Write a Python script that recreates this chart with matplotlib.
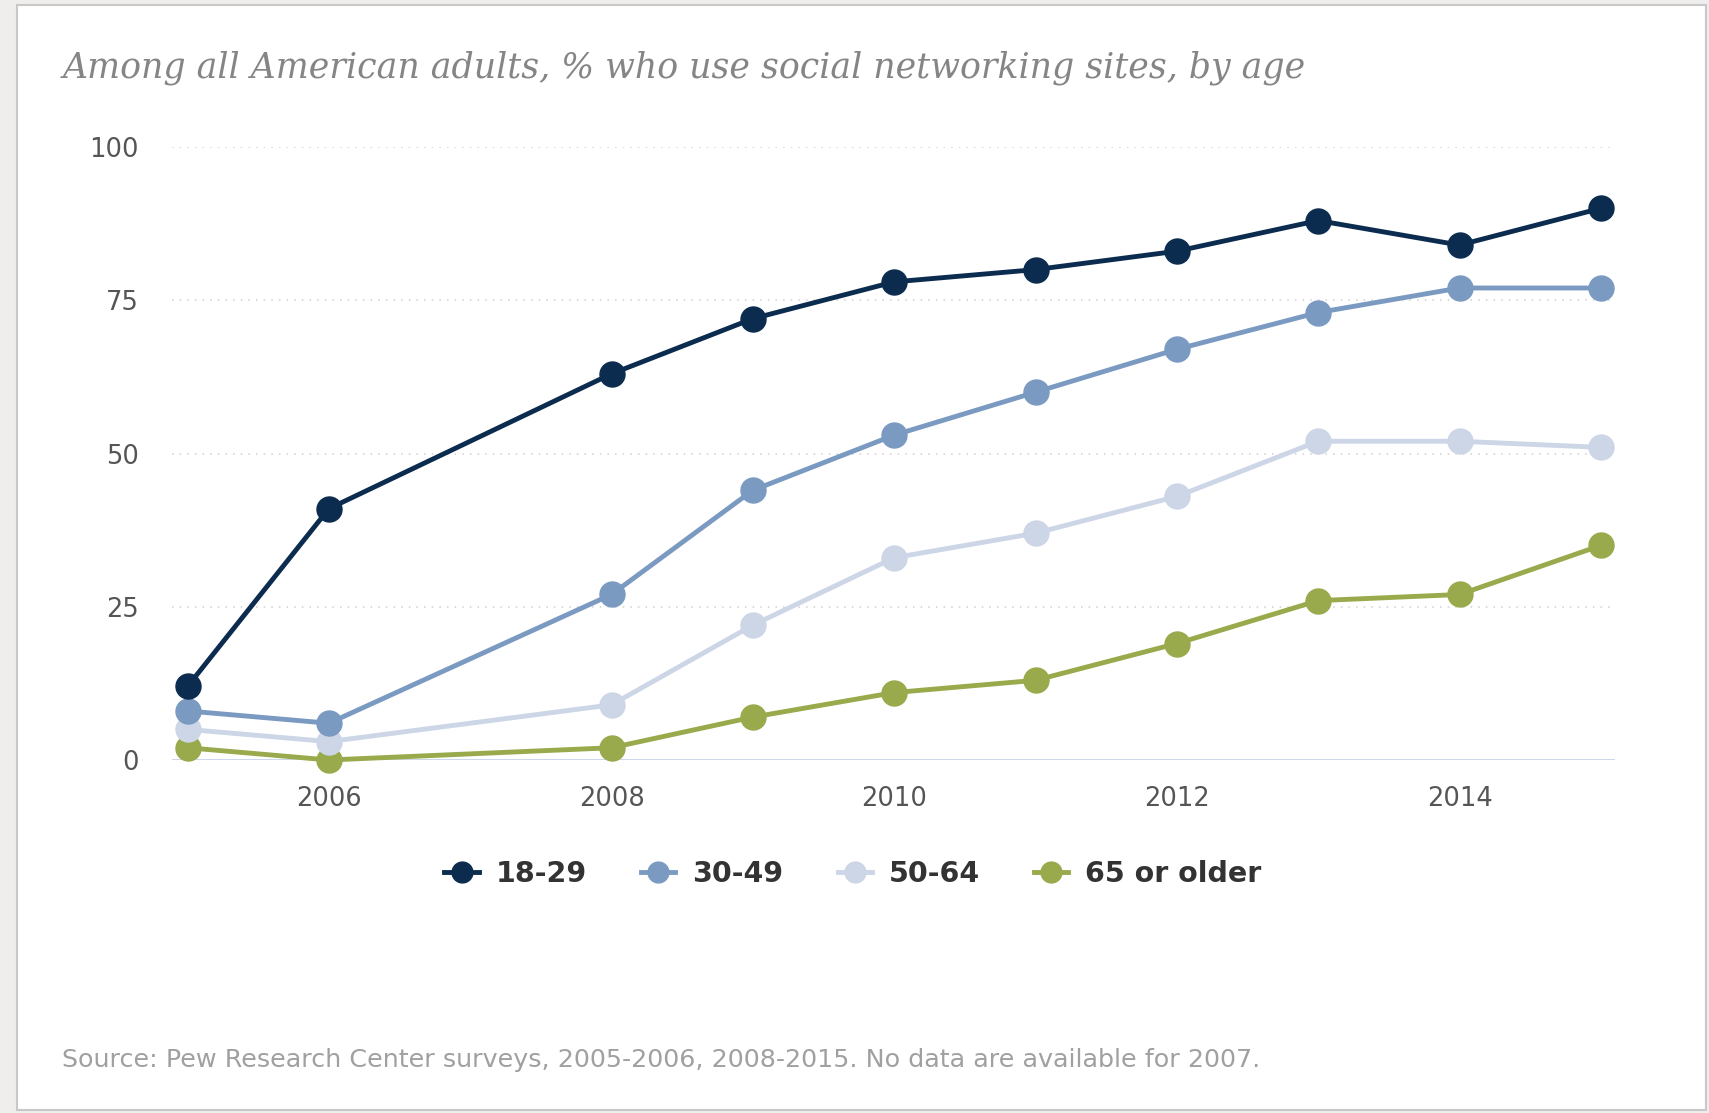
import matplotlib

matplotlib.use("Agg")
import matplotlib.pyplot as plt
from matplotlib.lines import Line2D
from matplotlib.patches import Rectangle

W, H = 1709, 1113

years = [2005, 2006, 2008, 2009, 2010, 2011, 2012, 2013, 2014, 2015]
age_groups = ["18-29", "30-49", "50-64", "65 or older"]
v_18_29 = [12, 41, 63, 72, 78, 80, 83, 88, 84, 90]
v_30_49 = [8, 6, 27, 44, 53, 60, 67, 73, 77, 77]
v_50_64 = [5, 3, 9, 22, 33, 37, 43, 52, 52, 51]
v_65_up = [2, 0, 2, 7, 11, 13, 19, 26, 27, 35]
colors = ["#0c2c4f", "#7b9ac2", "#cdd6e6", "#98aa4b"]

xticks = [2006, 2008, 2010, 2012, 2014]
yticks = [0, 25, 50, 75, 100]

fig = plt.figure(figsize=(W / 100, H / 100), dpi=100)
fig.patch.set_facecolor("#efeeec")

# white card of the screenshot, kept behind the axes
card = Rectangle((17 / W, 3 / H), (1706 - 17) / W, (1108 - 3) / H,
                 transform=fig.transFigure, facecolor="white",
                 edgecolor="#c8c8c8", lw=1.5, zorder=-10)
fig.patches.append(card)

ax = fig.add_axes([172 / W, 353 / H, (1615 - 172) / W, (966 - 353) / H], zorder=1)
ax.set_facecolor("none")

for y in yticks[1:]:
    ax.axhline(y, color="#cfcfcf", lw=1.1, ls=(0, (1, 4)), zorder=1)
ax.axhline(0, color="#bccbe0", lw=1.8, zorder=1)

series = [v_18_29, v_30_49, v_50_64, v_65_up]
for vals, c in zip(series[::-1], colors[::-1]):
    ax.plot(years, vals, "-o", color=c, lw=3.5, ms=18, clip_on=False, zorder=3)

ax.set_xlim(2004.89, 2015.1)
ax.set_ylim(0, 100)
ax.set_xticks(xticks)
ax.set_yticks(yticks)
for s in ax.spines.values():
    s.set_visible(False)
ax.tick_params(axis="both", length=0, labelsize=18.5, labelcolor="#555555")
ax.tick_params(axis="y", pad=24)
ax.tick_params(axis="x", pad=19)

handles = [Line2D([], [], color=c, lw=3.5, marker="o", ms=15) for c in colors]
fig.legend(handles, age_groups, loc="center", bbox_to_anchor=(853 / W, 1 - 874 / H),
           ncol=4, frameon=False, handlelength=1.2, handletextpad=0.6,
           columnspacing=1.9, prop={"size": 20.5, "weight": "bold"}, labelcolor="#333333")

fig.text(63 / W, 1 - 68 / H,
         "Among all American adults, % who use social networking sites, by age",
         ha="left", va="center", fontsize=25, style="italic", family="DejaVu Serif",
         color="#858585")
fig.text(62 / W, 1 - 1060 / H,
         "Source: Pew Research Center surveys, 2005-2006, 2008-2015. No data are available for 2007.",
         ha="left", va="center", fontsize=18.3, family=["Liberation Sans Narrow", "DejaVu Sans"],
         color="#a0a0a0")

fig.savefig("out.png", dpi=100, facecolor=fig.get_facecolor())
